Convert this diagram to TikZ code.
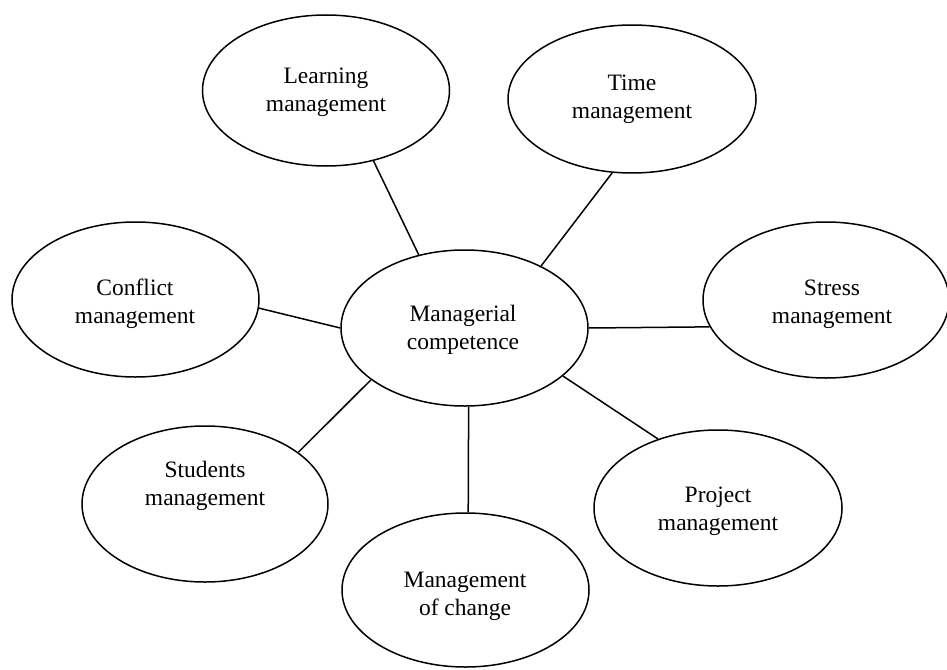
\documentclass[tikz,border=0pt]{standalone}
\usepackage{fontspec}
\setmainfont{Liberation Serif}
\usetikzlibrary{shapes.geometric}
\begin{document}
\begin{tikzpicture}[x=1pt,y=-1pt,
  oval/.style={ellipse,draw,line width=1.5pt,inner sep=0pt,minimum width=2*#1},
  oval/.default=247pt,
  lbl/.style={align=center,font=\fontsize{23.5}{28}\selectfont,inner sep=0pt},
  link/.style={line width=1.5pt}]
\useasboundingbox (0,0) rectangle (947,669);
% ellipses
\node[oval, minimum width=247pt, minimum height=151pt] (learn)  at (326,90.5) {};
\node[oval, minimum width=248pt, minimum height=148pt] (time)   at (632,99) {};
\node[oval, minimum width=247pt, minimum height=155pt] (conf)   at (135.5,299.5) {};
\node[oval, minimum width=247pt, minimum height=156pt] (mgr)    at (464.5,328) {};
\node[oval, minimum width=246pt, minimum height=156pt] (stress) at (826,300) {};
\node[oval, minimum width=246pt, minimum height=156pt] (stud)   at (205,504) {};
\node[oval, minimum width=247pt, minimum height=154pt] (moc)    at (465.5,590) {};
\node[oval, minimum width=248pt, minimum height=156pt] (proj)   at (718,508) {};
% labels
\node[lbl] (learnT)  at (326,92)   {Learning\\management};
\node[lbl] (timeT)   at (632,99)   {Time\\management};
\node[lbl] (confT)   at (135,304)  {Conflict\\management};
\node[lbl] (mgrT)    at (463,330)  {Managerial\\competence};
\node[lbl] (stressT) at (832,304)  {Stress\\management};
\node[lbl] (studT)   at (205,486)  {Students\\management};
\node[lbl] (mocT)    at (465,596)  {Management\\of change};
\node[lbl] (projT)   at (718,511)  {Project\\management};
% connectors
\draw[link] (learn.-56.5) -- (mgr.122.7);
\draw[link] (time.-105) -- (mgr.39);
\draw[link] (conf.-4) -- (mgr.180);
\draw[link] (mgr.0) -- (stress.193.8);
\draw[link] (stud.29.9) -- (mgr.-151.1);
\draw[link] (mgr.-87.4) -- (moc.88.1);
\draw[link] (mgr.-26.4) -- (proj.131.5);
\end{tikzpicture}
\end{document}
